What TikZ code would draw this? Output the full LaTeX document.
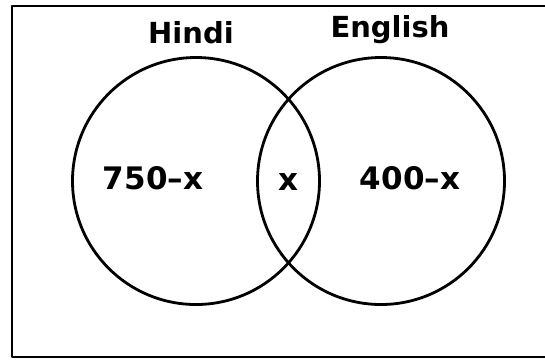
\documentclass[tikz,border=0pt]{standalone}
\usepackage{fontspec}
\setmainfont{DejaVu Sans}
\begin{document}
\begin{tikzpicture}[x=1pt, y=-1pt, line join=round, line cap=round]
			\tikzset{lbl/.style={font=\fontsize{29}{32}\selectfont\bfseries, inner sep=0pt},
				num/.style={font=\fontsize{31}{34}\selectfont\bfseries, inner sep=0pt}}
			\useasboundingbox (0,0) rectangle (545,360);
			\draw[line width=2.5] (12,6) rectangle (548,357);
			% the two sets
			\draw[line width=2.8] (196,181) circle(123.5);
			\draw[line width=2.8] (381,181) circle(123.5);
			\node[lbl] (hindi) at (191,33) {Hindi};
			\node[lbl] (english) at (390,30) {English};
			\node[num] (onlyH) at (153,178) {750--x};
			\node[num] (both) at (288,182) {x};
			\node[num] (onlyE) at (410,178) {400--x};
		\end{tikzpicture}
\end{document}
